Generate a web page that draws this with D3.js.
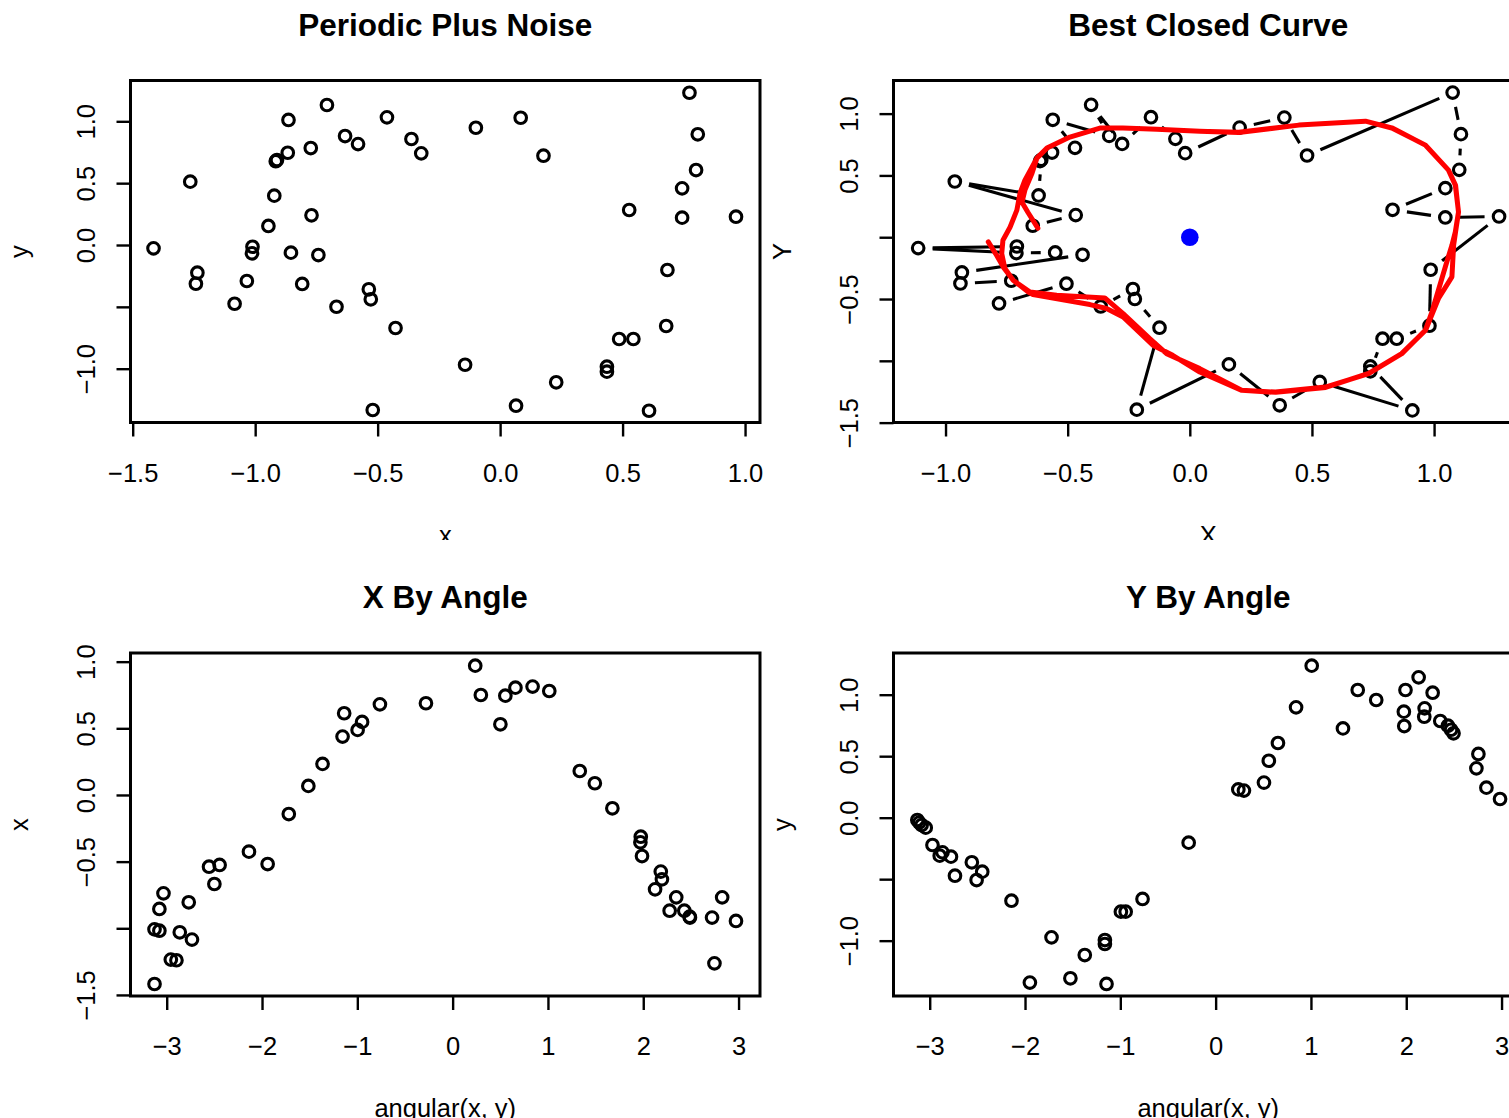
<!DOCTYPE html>
<html>
<head>
<meta charset="utf-8">
<script src="https://cdn.jsdelivr.net/npm/d3@7"></script>
<style>
body { margin: 0; background: #fff; }
text { font-family: "Liberation Sans", Arial, Helvetica, sans-serif; }
</style>
</head>
<body>
<div id="chart"></div>
<script>
// the noisy periodic sample
var ptX = [-1.415, -1.265, -1.236, -1.242, -1.084, -1.034, -1.011, -1.013, -0.946, -0.922,
           -0.911, -0.916, -0.867, -0.864, -0.854, -0.808, -0.773, -0.770, -0.742, -0.707,
           -0.668, -0.633, -0.580, -0.536, -0.528, -0.520, -0.462, -0.427, -0.362, -0.322,
           -0.099, 0.084, 0.177, -0.143, 0.229, 0.065, 0.436, 0.436, 0.486, 0.544,
           0.608, 0.527, 0.678, 0.683, 0.743, 0.743, 0.800, 0.807, 0.773, 0.963];
var ptY = [-0.027, 0.512, -0.224, -0.313, -0.475, -0.291, -0.014, -0.067, 0.154, 0.399,
           0.687, 0.677, 0.746, 1.011, -0.062, -0.315, 0.784, 0.240, -0.081, 1.132,
           -0.499, 0.881, 0.816, -0.358, -0.439, -1.334, 1.032, -0.671, 0.857, 0.741,
           0.948, 1.029, 0.722, -0.968, -1.110, -1.299, -0.984, -1.024, -0.760, -0.760,
           -1.340, 0.283, -0.655, -0.202, 0.221, 0.458, 0.606, 0.895, 1.231, 0.229];

// centre of the cloud (blue dot)
var centreX = -0.303;
var centreY = 0.061;

// order of the closed path through the points
var tour = [15, 4, 5, 3, 2, 18, 14, 7, 0, 6, 8, 17, 1, 9, 10, 11, 12, 16, 13, 21,
            19, 22, 26, 28, 29, 30, 31, 32, 48, 47, 46, 45, 41, 44, 49, 43, 42, 39, 38, 37,
            36, 40, 34, 35, 33, 25, 27, 24, 23, 20];

// fitted closed curve (centred coordinates)
var curveX = [-0.825, -0.791, -0.764, -0.723, -0.654, -0.545, -0.348, -0.273, -0.164, -0.095,
              0.041, 0.214, 0.351, 0.555, 0.732, 0.868, 0.964, 0.991, 1.052, 1.073,
              1.087, 1.100, 1.087, 1.059, 0.964, 0.827, 0.719, 0.446, 0.200, 0.041,
              -0.135, -0.274, -0.368, -0.491, -0.585, -0.626, -0.675, -0.695, -0.708, -0.736,
              -0.765, -0.770, -0.757, -0.723, -0.661, -0.642, -0.409, -0.341, -0.273, -0.151,
              -0.070, 0.041, 0.213, 0.352, 0.556, 0.732, 0.867, 0.965, 1.018, 1.073,
              1.080, 1.092, 1.100, 1.088, 1.059, 0.965, 0.827, 0.719, 0.446, 0.200,
              0.041, -0.135, -0.274, -0.368, -0.491, -0.585, -0.626, -0.646, -0.675, -0.687,
              -0.663, -0.622];
var curveY = [-0.038, -0.146, -0.240, -0.348, -0.443, -0.470, -0.491, -0.618, -0.820, -0.942,
              -1.063, -1.239, -1.253, -1.212, -1.104, -0.942, -0.753, -0.605, -0.200, -0.065,
              0.043, 0.205, 0.421, 0.543, 0.745, 0.885, 0.939, 0.907, 0.848, 0.858,
              0.874, 0.883, 0.883, 0.810, 0.721, 0.640, 0.462, 0.356, 0.219, 0.081,
              -0.024, -0.132, -0.253, -0.348, -0.443, -0.464, -0.545, -0.577, -0.645, -0.874,
              -0.955, -1.091, -1.239, -1.255, -1.215, -1.101, -0.942, -0.753, -0.496, -0.321,
              -0.065, 0.097, 0.202, 0.421, 0.543, 0.745, 0.883, 0.939, 0.907, 0.850,
              0.858, 0.874, 0.883, 0.883, 0.810, 0.721, 0.640, 0.518, 0.381, 0.283,
              0.202, 0.073];

// x against angle
var angX = [-3.128, -3.128, -3.077, -3.077, -3.034, -2.957, -2.898, -2.863, -2.769, -2.735,
            -2.556, -2.445, -2.500, -2.137, -1.941, -1.719, -1.514, -1.365, -1.155, -1.138,
            -0.997, -0.950, -0.763, -0.280, 0.237, 0.296, 0.501, 0.553, 0.659, 0.839,
            1.014, 1.334, 1.492, 1.676, 1.974, 1.970, 1.987, 2.184, 2.196, 2.124,
            2.346, 2.277, 2.431, 2.487, 2.490, 2.722, 2.828, 2.747, 2.973];
var valX = [-1.418, -1.008, -1.018, -0.855, -0.738, -1.235, -1.240, -1.030, -0.805, -1.085,
            -0.538, -0.525, -0.668, -0.425, -0.518, -0.143, 0.068, 0.233, 0.438, 0.613,
            0.488, 0.548, 0.680, 0.688, 0.970, 0.750, 0.530, 0.745, 0.805, 0.813,
            0.780, 0.180, 0.088, -0.100, -0.313, -0.355, -0.458, -0.575, -0.633, -0.708,
            -0.768, -0.868, -0.868, -0.913, -0.920, -0.920, -0.768, -1.263, -0.945];

// y against angle
var angY = [-3.130, -3.110, -3.085, -3.042, -2.971, -2.895, -2.866, -2.777, -2.735, -2.558,
            -2.449, -2.508, -2.142, -1.722, -1.949, -1.524, -1.373, -1.162, -1.162, -1.145,
            -0.994, -0.944, -0.767, -0.283, 0.238, 0.297, 0.507, 0.558, 0.654, 0.844,
            1.008, 1.336, 1.491, 1.685, 1.975, 1.979, 1.992, 2.130, 2.193, 2.189,
            2.277, 2.357, 2.437, 2.470, 2.496, 2.757, 2.736, 2.841, 2.984];
var valY = [-0.019, -0.040, -0.060, -0.081, -0.222, -0.309, -0.282, -0.317, -0.472, -0.363,
            -0.439, -0.507, -0.675, -0.973, -1.341, -1.306, -1.117, -0.995, -1.027, -1.352,
            -0.764, -0.764, -0.661, -0.203, 0.230, 0.220, 0.285, 0.463, 0.607, 0.897,
            1.236, 0.726, 1.038, 0.957, 0.862, 0.745, 1.038, 1.141, 0.889, 0.821,
            1.016, 0.786, 0.748, 0.715, 0.686, 0.518, 0.401, 0.244, 0.152];

// tick values and labels (R drops labels that would overlap)
var ticksXY = [-1.5, -1, -0.5, 0, 0.5, 1];
var labXY = ["\u22121.5", "\u22121.0", "\u22120.5", "0.0", "0.5", "1.0"];
var ticksTLy = [-1, -0.5, 0, 0.5, 1];
var labTLy = ["\u22121.0", "", "0.0", "0.5", "1.0"];
var ticksTRx = [-1, -0.5, 0, 0.5, 1];
var labTRx = ["\u22121.0", "\u22120.5", "0.0", "0.5", "1.0"];
var ticksTRy = [-1.5, -1, -0.5, 0, 0.5, 1];
var labTRy = ["\u22121.5", "", "\u22120.5", "", "0.5", "1.0"];
var ticksAng = [-3, -2, -1, 0, 1, 2, 3];
var labAng = ["\u22123", "\u22122", "\u22121", "0", "1", "2", "3"];
var ticksBLy = [-1.5, -1, -0.5, 0, 0.5, 1];
var labBLy = ["\u22121.5", "", "\u22120.5", "0.0", "0.5", "1.0"];
var ticksBRy = [-1, -0.5, 0, 0.5, 1];
var labBRy = ["\u22121.0", "", "0.0", "0.5", "1.0"];

var W = 1509, H = 1118;
var FONT = 25.5;

var svg = d3.select("#chart").append("svg")
  .attr("width", W)
  .attr("height", H);

svg.append("defs").append("clipPath").attr("id", "toprow")
  .append("rect").attr("x", 0).attr("y", 0).attr("width", W).attr("height", 540);

function drawPanel(p) {
  var x = d3.scaleLinear().domain(p.xDom).range([p.left, p.left + p.w]);
  var y = d3.scaleLinear().domain(p.yDom).range([p.top + p.h, p.top]);
  var g = svg.append("g");

  var ax = g.append("g")
    .attr("transform", "translate(0," + (p.top + p.h) + ")")
    .call(d3.axisBottom(x).tickValues(p.xTicks)
      .tickFormat(function(d, i) { return p.xLabels[i]; })
      .tickSize(14).tickSizeOuter(0));
  ax.select(".domain").remove();
  ax.attr("font-size", FONT).attr("font-family", null);
  ax.selectAll("line").attr("stroke-width", 2.4);
  ax.selectAll("text").attr("y", 59).attr("dy", 0);

  var ay = g.append("g")
    .attr("transform", "translate(" + p.left + ",0)")
    .call(d3.axisLeft(y).tickValues(p.yTicks)
      .tickFormat(function(d, i) { return p.yLabels[i]; })
      .tickSize(14).tickSizeOuter(0));
  ay.select(".domain").remove();
  ay.attr("font-size", FONT).attr("font-family", null);
  ay.selectAll("line").attr("stroke-width", 2.4);
  ay.selectAll("text")
    .attr("x", 0).attr("y", -36).attr("dy", 0)
    .attr("text-anchor", "middle")
    .attr("transform", "rotate(-90)");

  g.append("rect")
    .attr("x", p.left).attr("y", p.top)
    .attr("width", p.w).attr("height", p.h)
    .attr("fill", "none").attr("stroke", "black").attr("stroke-width", 3);

  g.append("text")
    .attr("x", p.left + p.w / 2).attr("y", p.top - 45)
    .attr("text-anchor", "middle")
    .attr("font-size", 31.5).attr("font-weight", "bold")
    .text(p.title);

  var xl = g.append("text")
    .attr("x", p.left + p.w / 2).attr("y", p.top + p.h + 121)
    .attr("text-anchor", "middle")
    .attr("font-size", FONT)
    .text(p.xTitle);
  if (p.clipX) xl.attr("clip-path", "url(#toprow)");

  g.append("text")
    .attr("transform", "translate(" + (p.left - 102.5) + "," + (p.top + p.h / 2) + ") rotate(-90)")
    .attr("text-anchor", "middle")
    .attr("font-size", FONT)
    .text(p.yTitle);

  return { g: g, x: x, y: y };
}

function addPoints(pan, xs, ys) {
  pan.g.append("g").selectAll("circle")
    .data(xs)
    .enter()
    .append("circle")
    .attr("cx", function(d) { return pan.x(d); })
    .attr("cy", function(d, i) { return pan.y(ys[i]); })
    .attr("r", 5.8)
    .attr("fill", "none")
    .attr("stroke", "black")
    .attr("stroke-width", 3.1);
}

// top left: raw data
var tl = drawPanel({
  left: 130.5, top: 80.5, w: 629.5, h: 342,
  xDom: [-1.509, 1.061], yDom: [-1.435, 1.330],
  xTicks: ticksXY, xLabels: labXY, yTicks: ticksTLy, yLabels: labTLy,
  title: "Periodic Plus Noise", xTitle: "x", yTitle: "y", clipX: true
});
addPoints(tl, ptX, ptY);

// top right: centred data, closed path and fitted curve
var tr = drawPanel({
  left: 893.5, top: 80.5, w: 629.5, h: 342,
  xDom: [-1.213, 1.364], yDom: [-1.499, 1.268],
  xTicks: ticksTRx, xLabels: labTRx, yTicks: ticksTRy, yLabels: labTRy,
  title: "Best Closed Curve", xTitle: "X", yTitle: "Y", clipX: true
});
var cX = ptX.map(function(v) { return v - centreX; });
var cY = ptY.map(function(v) { return v - centreY; });
addPoints(tr, cX, cY);

// path drawn like type = "b": segments stop short of each point
var gap = 14.5;
var segs = [];
tour.forEach(function(a, i) {
  var b = tour[(i + 1) % tour.length];
  var x1 = tr.x(cX[a]), y1 = tr.y(cY[a]);
  var x2 = tr.x(cX[b]), y2 = tr.y(cY[b]);
  var dx = x2 - x1, dy = y2 - y1;
  var d = Math.sqrt(dx * dx + dy * dy);
  if (d > 2 * gap) {
    segs.push([x1 + dx / d * gap, y1 + dy / d * gap, x2 - dx / d * gap, y2 - dy / d * gap]);
  }
});
tr.g.append("g").selectAll("line")
  .data(segs)
  .enter()
  .append("line")
  .attr("x1", function(s) { return s[0]; })
  .attr("y1", function(s) { return s[1]; })
  .attr("x2", function(s) { return s[2]; })
  .attr("y2", function(s) { return s[3]; })
  .attr("stroke", "black")
  .attr("stroke-width", 3.1);

var curve = d3.line()
  .x(function(d) { return tr.x(curveX[d]); })
  .y(function(d) { return tr.y(curveY[d]); });
tr.g.append("path")
  .attr("d", curve(d3.range(curveX.length)))
  .attr("fill", "none")
  .attr("stroke", "#ff0000")
  .attr("stroke-width", 5)
  .attr("stroke-linejoin", "round")
  .attr("stroke-linecap", "round");

tr.g.append("circle")
  .attr("cx", tr.x(0)).attr("cy", tr.y(0))
  .attr("r", 8.8)
  .attr("fill", "#0000ff");

// bottom left: x by angle
var bl = drawPanel({
  left: 130.5, top: 653, w: 629.5, h: 343,
  xDom: [-3.38, 3.225], yDom: [-1.508, 1.065],
  xTicks: ticksAng, xLabels: labAng, yTicks: ticksBLy, yLabels: labBLy,
  title: "X By Angle", xTitle: "angular(x, y)", yTitle: "x", clipX: false
});
addPoints(bl, angX, valX);

// bottom right: y by angle
var br = drawPanel({
  left: 893.5, top: 653, w: 629.5, h: 343,
  xDom: [-3.38, 3.225], yDom: [-1.450, 1.339],
  xTicks: ticksAng, xLabels: labAng, yTicks: ticksBRy, yLabels: labBRy,
  title: "Y By Angle", xTitle: "angular(x, y)", yTitle: "y", clipX: false
});
addPoints(br, angY, valY);
</script>
</body>
</html>
